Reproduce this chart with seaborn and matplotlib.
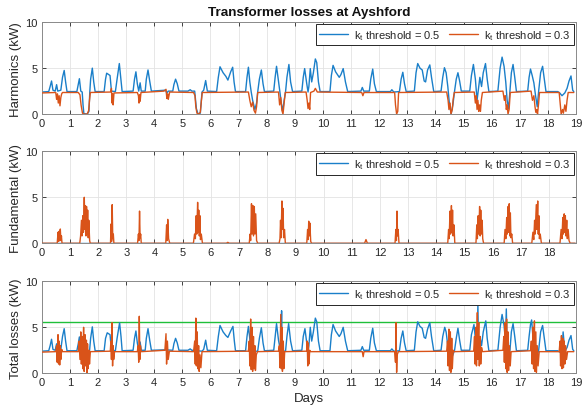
import numpy as np
import pandas as pd
import matplotlib
matplotlib.use("Agg")
import matplotlib.pyplot as plt
import seaborn as sns

# ---------------- data ----------------
TITLE = "Transformer losses at Ayshford"
YLABELS = ["Harmonics (kW)", "Fundamental (kW)", "Total losses (kW)"]
XLABEL = "Days"
SERIES_LABELS = [r"k$_\mathregular{t}$ threshold = 0.5", r"k$_\mathregular{t}$ threshold = 0.3"]
LOSS_LIMIT = 5.6
XTICKS_FULL = list(range(0, 20))
XTICKS_MID = list(range(0, 19))
YTICKS = [0, 5, 10]

# Harmonics, kt = 0.5 (blue)
BLUE_HARM_T = [0.00, 0.25, 0.30, 0.35, 0.40, 0.48, 0.53, 0.57, 0.68, 0.74, 0.80, 0.85, 0.90,
               1.25, 1.30, 1.34, 1.39, 1.44, 1.47, 1.50, 1.62, 1.68, 1.71, 1.74, 1.80, 1.85, 1.90,
               2.22, 2.27, 2.31, 2.38, 2.43, 2.48, 2.62, 2.68, 2.76, 2.81, 2.86,
               3.25, 3.30, 3.35, 3.40, 3.45, 3.50, 3.54, 3.68, 3.72, 3.78, 3.84, 3.90,
               4.40, 4.45, 4.50, 4.66, 4.70, 4.76, 4.82, 4.88,
               5.20, 5.28, 5.34, 5.44, 5.50, 5.56, 5.64, 5.70, 5.76, 5.83, 5.89,
               6.22, 6.28, 6.34, 6.45, 6.55, 6.62, 6.72, 6.79, 6.84, 6.89,
               7.25, 7.30, 7.35, 7.40, 7.45, 7.50, 7.58, 7.64, 7.68, 7.74, 7.81, 7.87, 7.92,
               8.25, 8.30, 8.35, 8.42, 8.47, 8.52, 8.57, 8.62, 8.67, 8.72, 8.79, 8.85, 8.92,
               9.25, 9.30, 9.35, 9.42, 9.47, 9.50, 9.55, 9.60, 9.66, 9.73, 9.78, 9.84, 9.90,
               10.25, 10.30, 10.36, 10.45, 10.58, 10.64, 10.72, 10.80, 10.88,
               11.35, 11.40, 11.45, 11.65, 11.70, 11.77, 11.83, 11.90,
               12.40, 12.45, 12.52, 12.72, 12.78, 12.84, 12.90, 12.96,
               13.25, 13.31, 13.37, 13.45, 13.53, 13.60, 13.65, 13.72, 13.80, 13.86, 13.94,
               14.20, 14.26, 14.32, 14.38, 14.44, 14.50, 14.56, 14.62, 14.68, 14.74, 14.80, 14.86, 14.92,
               15.22, 15.28, 15.35, 15.42, 15.48, 15.52, 15.58, 15.64, 15.70, 15.78, 15.84, 15.90,
               16.22, 16.30, 16.37, 16.44, 16.50, 16.55, 16.60, 16.65, 16.70, 16.76, 16.82, 16.88,
               17.28, 17.33, 17.38, 17.44, 17.50, 17.56, 17.62, 17.67, 17.74, 17.81, 17.87, 17.93,
               18.35, 18.42, 18.50, 18.60, 18.68, 18.75, 18.82, 18.88, 18.92]
BLUE_HARM_V = [2.40, 2.45, 3.00, 3.60, 2.60, 2.50, 3.20, 2.50, 2.60, 4.00, 4.75, 3.50, 2.45,
               2.45, 3.20, 3.85, 2.50, 2.40, 1.00, 0.05, 0.00, 0.30, 2.40, 3.80, 5.00, 3.50, 2.45,
               2.45, 3.80, 4.45, 4.30, 4.20, 2.50, 2.45, 3.80, 5.50, 4.00, 2.45,
               2.50, 3.80, 4.60, 3.30, 2.50, 3.40, 2.50, 2.50, 3.80, 4.80, 3.60, 2.50,
               2.60, 2.30, 2.50, 2.50, 3.20, 3.80, 3.30, 2.50,
               2.50, 2.65, 2.50, 2.50, 0.60, 0.00, 0.10, 2.40, 2.60, 3.65, 2.50,
               2.45, 4.00, 5.15, 4.50, 4.10, 3.70, 4.60, 5.10, 3.50, 2.45,
               2.45, 4.00, 5.10, 3.50, 2.40, 1.50, 0.50, 1.20, 2.40, 3.80, 4.80, 3.30, 2.45,
               2.50, 4.00, 5.20, 3.60, 2.40, 1.20, 0.30, 1.50, 2.40, 4.00, 5.40, 3.50, 2.45,
               2.50, 4.00, 4.95, 3.40, 2.40, 3.00, 4.95, 3.50, 4.50, 6.00, 5.60, 3.50, 2.45,
               2.45, 4.20, 5.30, 4.60, 4.00, 4.30, 4.95, 3.50, 2.45,
               2.50, 2.90, 2.50, 2.50, 3.80, 4.90, 3.30, 2.45,
               2.45, 2.65, 2.40, 2.45, 3.80, 4.55, 3.30, 2.45,
               2.50, 4.50, 5.50, 5.00, 4.80, 3.60, 3.50, 4.80, 5.35, 4.00, 2.45,
               2.50, 4.00, 5.05, 4.50, 3.00, 1.00, 0.05, 1.00, 2.50, 3.80, 4.50, 3.60, 2.50,
               2.50, 4.20, 5.40, 3.80, 1.50, 2.50, 4.00, 3.00, 4.50, 5.50, 3.80, 2.45,
               2.50, 5.00, 6.20, 5.20, 3.50, 1.50, 0.60, 2.50, 4.50, 5.40, 4.00, 2.45,
               2.50, 4.00, 4.90, 4.20, 3.40, 2.00, 0.80, 2.50, 4.50, 5.20, 3.80, 2.45,
               2.45, 2.30, 2.00, 2.30, 2.80, 3.60, 4.15, 2.60, 2.45]

# Harmonics, kt = 0.3 (orange)
ORANGE_HARM_T = [0.00, 0.50, 0.53, 0.56, 0.59, 0.62, 0.65, 0.68, 0.71, 0.74,
                 1.30, 1.36, 1.40, 1.45, 1.50, 1.62, 1.67, 1.70, 1.73,
                 2.45, 2.48, 2.50, 2.52, 2.54, 2.57,
                 3.40, 3.44, 3.46, 3.48, 3.50, 3.53,
                 4.35, 4.42, 4.45, 4.48, 4.50, 4.55,
                 5.40, 5.45, 5.48, 5.52, 5.58, 5.64, 5.68, 5.71,
                 7.35, 7.40, 7.45, 7.50, 7.55, 7.60, 7.64, 7.68,
                 8.42, 8.46, 8.50, 8.54, 8.58, 8.62, 8.66,
                 9.40, 9.44, 9.47, 9.50, 9.53, 9.56, 9.68, 9.73, 9.80,
                 11.38, 11.42, 11.46,
                 12.55, 12.58, 12.62, 12.66, 12.69,
                 14.40, 14.45, 14.48, 14.52, 14.55, 14.60, 14.63, 14.67,
                 15.38, 15.42, 15.45, 15.48, 15.51, 15.54, 15.57, 15.60, 15.63, 15.67,
                 16.40, 16.45, 16.48, 16.52, 16.55, 16.58, 16.62, 16.66,
                 17.40, 17.45, 17.50, 17.54, 17.57, 17.60, 17.63, 17.67, 17.70,
                 18.40, 18.44, 18.47, 18.52, 18.55, 18.60, 18.64, 18.68, 18.72, 18.92]
ORANGE_HARM_V = [2.30, 2.35, 1.60, 2.20, 1.20, 2.00, 0.90, 1.80, 2.20, 2.35,
                 2.35, 2.10, 1.00, 0.10, 0.00, 0.00, 0.40, 1.50, 2.35,
                 2.40, 2.80, 1.20, 2.20, 1.00, 2.30,
                 2.35, 2.00, 1.20, 2.10, 1.40, 2.35,
                 2.50, 2.70, 1.70, 2.20, 1.60, 2.40,
                 2.35, 2.00, 0.80, 0.10, 0.00, 0.20, 1.50, 2.35,
                 2.40, 1.50, 0.80, 1.30, 0.40, 0.10, 0.80, 2.35,
                 2.40, 1.00, 1.80, 0.40, 0.00, 1.20, 2.35,
                 2.40, 1.50, 0.60, 1.20, 0.50, 2.35, 2.50, 2.80, 2.40,
                 2.35, 2.00, 2.35,
                 2.35, 1.00, 0.00, 0.30, 2.35,
                 2.40, 1.50, 0.50, 1.20, 0.00, 0.50, 1.60, 2.35,
                 2.40, 1.20, 2.00, 0.50, 1.50, 0.30, 1.00, 0.30, 1.50, 2.35,
                 2.50, 1.50, 2.00, 0.50, 1.00, 0.00, 0.50, 2.35,
                 2.50, 1.50, 2.00, 0.80, 0.20, 0.50, 0.00, 1.20, 2.35,
                 2.35, 1.00, 0.00, 0.50, 0.10, 1.00, 0.30, 1.50, 2.35, 2.35]

# Fundamental, kt = 0.5 (blue, hidden under the orange line)
BLUE_FUND_T = [0.00, 18.92]
BLUE_FUND_V = [0.00, 0.00]

# Fundamental, kt = 0.3 (orange)
ORANGE_FUND_T = [0.00, 0.55, 0.58, 0.60, 0.62, 0.64, 0.66, 0.68, 0.70, 0.72,
                 1.35, 1.38, 1.41, 1.43, 1.46, 1.48, 1.51, 1.53, 1.55, 1.57, 1.59, 1.61, 1.63, 1.65, 1.67, 1.70, 1.72,
                 2.44, 2.46, 2.48, 2.50, 2.52, 2.54, 2.56,
                 3.40, 3.43, 3.45, 3.47, 3.49, 3.51, 3.53,
                 4.40, 4.43, 4.45, 4.47, 4.50, 4.54,
                 5.38, 5.42, 5.45, 5.48, 5.50, 5.53, 5.55, 5.57, 5.59, 5.61, 5.63, 5.66, 5.70,
                 6.55, 6.60, 6.65,
                 7.36, 7.39, 7.41, 7.44, 7.46, 7.49, 7.51, 7.54, 7.56, 7.59, 7.62, 7.66,
                 8.42, 8.45, 8.47, 8.49, 8.52, 8.54, 8.56, 8.58, 8.61, 8.64,
                 9.40, 9.43, 9.45, 9.47, 9.49, 9.51, 9.54, 9.57,
                 11.45, 11.50, 11.55,
                 12.53, 12.56, 12.58, 12.60, 12.62, 12.64, 12.67,
                 14.40, 14.43, 14.45, 14.48, 14.50, 14.53, 14.55, 14.57, 14.59, 14.62, 14.65,
                 15.40, 15.43, 15.45, 15.48, 15.50, 15.53, 15.55, 15.57, 15.59, 15.62, 15.64, 15.67,
                 16.40, 16.43, 16.46, 16.49, 16.51, 16.54, 16.56, 16.58, 16.60, 16.62, 16.64, 16.67, 16.70,
                 17.38, 17.42, 17.45, 17.48, 17.50, 17.54, 17.56, 17.59, 17.61, 17.63, 17.65, 17.68, 17.72,
                 18.38, 18.42, 18.45, 18.48, 18.50, 18.53, 18.55, 18.57, 18.59, 18.62, 18.64, 18.67, 18.70, 18.74, 18.92]
ORANGE_FUND_V = [0.00, 0.00, 1.20, 0.20, 1.30, 0.30, 1.55, 0.30, 0.80, 0.00,
                 0.00, 0.80, 2.50, 0.80, 3.00, 1.20, 5.00, 1.50, 4.10, 0.80, 4.00, 1.00, 3.60, 0.60, 2.50, 0.30, 0.00,
                 0.00, 2.10, 0.20, 4.20, 0.50, 1.00, 0.00,
                 0.00, 1.00, 0.30, 3.50, 0.60, 1.00, 0.00,
                 0.00, 2.00, 0.30, 2.60, 0.50, 0.00,
                 0.00, 1.00, 0.50, 3.00, 1.00, 4.45, 1.20, 3.60, 0.80, 3.00, 0.40, 1.00, 0.00,
                 0.00, 0.10, 0.00,
                 0.00, 1.00, 0.30, 4.30, 1.00, 4.10, 0.80, 4.00, 1.00, 3.20, 0.30, 0.00,
                 0.00, 0.50, 2.50, 0.60, 4.60, 1.50, 3.80, 0.60, 1.50, 0.00,
                 0.00, 1.50, 0.40, 2.40, 0.80, 2.20, 0.20, 0.00,
                 0.00, 0.40, 0.00,
                 0.00, 1.50, 0.30, 3.50, 0.80, 1.50, 0.00,
                 0.00, 1.50, 0.50, 3.50, 1.00, 4.10, 1.20, 3.60, 0.80, 2.00, 0.00,
                 0.00, 2.00, 0.50, 3.00, 1.00, 4.00, 0.80, 3.60, 1.00, 2.50, 0.50, 0.00,
                 0.00, 1.50, 0.50, 2.80, 1.00, 4.00, 1.20, 4.30, 0.80, 3.30, 0.60, 1.00, 0.00,
                 0.00, 1.20, 0.40, 2.50, 1.00, 4.20, 1.50, 4.60, 1.00, 3.00, 0.50, 1.00, 0.00,
                 0.00, 1.50, 0.50, 2.80, 1.00, 3.20, 1.20, 3.00, 0.80, 2.50, 0.50, 1.50, 0.30, 0.00, 0.00]

# Total losses, kt = 0.5 (blue)
BLUE_TOT_T = [0.00, 0.25, 0.30, 0.35, 0.40, 0.48, 0.53, 0.57, 0.68, 0.74, 0.80, 0.85, 0.90,
              1.25, 1.30, 1.34, 1.39, 1.70, 1.74, 1.80, 1.85, 1.90,
              2.22, 2.27, 2.33, 2.38, 2.43, 2.48, 2.62, 2.68, 2.77, 2.82, 2.86,
              3.25, 3.30, 3.35, 3.40, 3.45, 3.50, 3.54, 3.68, 3.72, 3.78, 3.84, 3.90,
              4.40, 4.66, 4.70, 4.76, 4.82, 4.88,
              5.20, 5.28, 5.34, 5.70, 5.76, 5.83, 5.89,
              6.22, 6.28, 6.34, 6.45, 6.55, 6.62, 6.72, 6.80, 6.85, 6.89,
              7.25, 7.30, 7.35, 7.40, 7.45, 7.68, 7.74, 7.81, 7.87, 7.92,
              8.25, 8.30, 8.35, 8.42, 8.48, 8.51, 8.53, 8.55, 8.60, 8.67, 8.72, 8.78, 8.85, 8.92,
              9.25, 9.30, 9.36, 9.42, 9.47, 9.50, 9.55, 9.60, 9.66, 9.73, 9.78, 9.84, 9.90,
              10.25, 10.30, 10.36, 10.45, 10.58, 10.64, 10.72, 10.80, 10.88,
              11.35, 11.40, 11.45, 11.65, 11.70, 11.77, 11.83, 11.90,
              12.40, 12.45, 12.52, 12.72, 12.78, 12.84, 12.90, 12.96,
              13.25, 13.31, 13.37, 13.45, 13.53, 13.60, 13.65, 13.72, 13.80, 13.86, 13.94,
              14.20, 14.26, 14.33, 14.38, 14.44, 14.50, 14.56, 14.62, 14.68, 14.74, 14.80, 14.86, 14.92,
              15.22, 15.28, 15.37, 15.42, 15.48, 15.51, 15.53, 15.58, 15.64, 15.70, 15.79, 15.84, 15.90,
              16.22, 16.30, 16.37, 16.44, 16.49, 16.52, 16.55, 16.60, 16.65, 16.70, 16.76, 16.82, 16.88,
              17.28, 17.33, 17.38, 17.42, 17.46, 17.50, 17.56, 17.62, 17.67, 17.74, 17.81, 17.87, 17.93,
              18.35, 18.42, 18.50, 18.54, 18.60, 18.68, 18.75, 18.82, 18.88, 18.92]
BLUE_TOT_V = [2.40, 2.45, 3.00, 3.70, 2.60, 2.50, 3.20, 2.50, 2.60, 4.00, 4.85, 3.50, 2.45,
              2.45, 3.20, 3.95, 2.50, 2.40, 3.80, 5.05, 3.50, 2.45,
              2.45, 3.80, 4.40, 4.30, 4.20, 2.50, 2.45, 3.80, 5.50, 4.00, 2.45,
              2.50, 3.80, 4.60, 3.30, 2.50, 3.40, 2.50, 2.50, 3.80, 4.85, 3.60, 2.50,
              2.55, 2.50, 3.20, 3.80, 3.30, 2.50,
              2.50, 2.65, 2.50, 2.40, 2.60, 3.60, 2.50,
              2.45, 4.00, 5.20, 4.50, 4.10, 3.90, 4.60, 5.10, 3.50, 2.45,
              2.45, 4.00, 5.10, 3.70, 2.40, 2.40, 3.80, 4.95, 3.30, 2.45,
              2.50, 4.00, 5.40, 3.60, 2.60, 4.00, 6.80, 3.00, 2.40, 2.40, 4.00, 5.40, 3.50, 2.45,
              2.50, 4.00, 4.85, 3.40, 2.40, 3.00, 5.00, 3.50, 4.50, 6.00, 5.60, 3.50, 2.45,
              2.45, 4.20, 5.30, 4.60, 4.00, 4.30, 5.00, 3.50, 2.45,
              2.50, 2.90, 2.50, 2.50, 3.80, 4.90, 3.30, 2.45,
              2.45, 2.65, 2.40, 2.45, 3.80, 4.60, 3.30, 2.45,
              2.50, 4.50, 5.60, 5.10, 4.90, 3.90, 3.80, 4.80, 5.50, 4.00, 2.45,
              2.50, 4.00, 5.00, 4.50, 3.00, 2.00, 1.50, 2.00, 2.50, 3.80, 4.90, 3.60, 2.50,
              2.50, 4.20, 5.30, 3.80, 3.00, 7.50, 3.00, 4.00, 3.00, 4.50, 5.70, 3.80, 2.45,
              2.50, 5.00, 6.40, 5.20, 3.50, 7.00, 3.00, 2.00, 2.50, 4.50, 5.40, 4.00, 2.45,
              2.50, 4.00, 5.30, 5.80, 4.20, 3.40, 2.40, 2.00, 2.50, 4.50, 5.20, 3.80, 2.45,
              2.45, 2.30, 2.40, 4.50, 2.40, 2.80, 3.60, 4.10, 2.60, 2.45]

# Total losses, kt = 0.3 (orange)
ORANGE_TOT_T = [0.00, 0.50, 0.53, 0.55, 0.58, 0.60, 0.62, 0.64, 0.66, 0.68, 0.71, 0.74,
                1.30, 1.33, 1.36, 1.39, 1.41, 1.44, 1.46, 1.49, 1.51, 1.54, 1.56, 1.59, 1.61, 1.63, 1.65, 1.68, 1.70, 1.73,
                2.44, 2.46, 2.48, 2.50, 2.52, 2.54, 2.56, 2.59,
                3.40, 3.43, 3.45, 3.47, 3.49, 3.51, 3.54,
                4.38, 4.42, 4.44, 4.47, 4.50, 4.54,
                5.40, 5.44, 5.46, 5.48, 5.50, 5.53, 5.55, 5.58, 5.60, 5.63, 5.66, 5.70,
                7.35, 7.38, 7.40, 7.43, 7.45, 7.48, 7.50, 7.53, 7.55, 7.58, 7.60, 7.63, 7.67,
                8.42, 8.45, 8.47, 8.50, 8.52, 8.54, 8.56, 8.59, 8.61, 8.64,
                9.42, 9.44, 9.46, 9.48, 9.50, 9.53, 9.56,
                11.40, 11.43, 11.46,
                12.55, 12.58, 12.60, 12.62, 12.64, 12.68,
                14.40, 14.43, 14.45, 14.48, 14.50, 14.53, 14.55, 14.58, 14.60, 14.63, 14.66,
                15.36, 15.39, 15.41, 15.44, 15.46, 15.49, 15.51, 15.54, 15.56, 15.59, 15.61, 15.64, 15.67,
                16.40, 16.43, 16.45, 16.48, 16.50, 16.53, 16.55, 16.58, 16.60, 16.63, 16.66, 16.69,
                17.38, 17.41, 17.44, 17.47, 17.49, 17.52, 17.54, 17.57, 17.59, 17.62, 17.65, 17.69,
                18.40, 18.43, 18.45, 18.48, 18.50, 18.53, 18.55, 18.58, 18.60, 18.63, 18.66, 18.70, 18.92]
ORANGE_TOT_V = [2.30, 2.35, 3.00, 1.20, 4.20, 1.00, 3.50, 0.90, 3.00, 1.50, 2.60, 2.35,
                2.35, 3.50, 1.50, 4.50, 1.00, 4.00, 0.50, 5.00, 0.20, 4.20, 0.80, 3.60, 0.00, 3.20, 0.50, 2.50, 1.00, 2.35,
                2.40, 3.50, 1.50, 5.50, 0.80, 3.00, 1.50, 2.35,
                2.35, 3.00, 1.20, 6.20, 1.50, 3.00, 2.35,
                2.50, 4.30, 1.00, 3.50, 1.50, 2.40,
                2.35, 3.50, 1.00, 6.00, 0.80, 4.50, 0.50, 3.00, 0.20, 2.00, 0.60, 2.35,
                2.40, 3.50, 0.80, 5.90, 0.40, 5.00, 0.20, 4.00, 0.50, 3.00, 0.30, 2.00, 2.35,
                2.40, 3.00, 0.60, 6.40, 0.50, 5.00, 0.20, 3.50, 0.50, 2.35,
                2.40, 3.50, 0.80, 3.30, 1.00, 2.50, 2.35,
                2.35, 1.80, 2.35,
                2.35, 1.20, 5.50, 0.10, 2.00, 2.35,
                2.40, 3.50, 0.80, 4.80, 0.30, 4.50, 0.10, 3.80, 0.50, 2.50, 2.35,
                2.40, 4.00, 1.00, 5.00, 0.80, 6.60, 1.50, 5.50, 0.80, 4.00, 1.00, 2.80, 2.35,
                2.50, 4.00, 1.20, 5.50, 0.50, 5.90, 0.10, 4.50, 0.30, 3.00, 0.80, 2.35,
                2.45, 3.50, 1.00, 5.00, 0.50, 5.70, 0.20, 4.50, 0.10, 3.00, 0.80, 2.35,
                2.35, 3.50, 0.80, 4.10, 0.50, 3.80, 0.60, 3.50, 1.00, 3.00, 1.50, 2.35, 2.35]

# ---------------- styling ----------------
BLUE = "#1a7fc9"
ORANGE = "#D95319"
GREEN = "#1fbf3a"

sns.set_theme(style="whitegrid")
plt.rcParams["font.family"] = ["Liberation Sans", "DejaVu Sans"]
plt.rcParams["mathtext.fontset"] = "custom"
plt.rcParams["mathtext.rm"] = "Liberation Sans"

fig = plt.figure(figsize=(5.84, 4.14), dpi=100)
fig.patch.set_facecolor("white")

left, width, height = 0.0714, 0.915, 0.222
bottoms = [0.722, 0.410, 0.096]
axes = [fig.add_axes([left, b, width, height]) for b in bottoms]

panels = [
    (BLUE_HARM_T, BLUE_HARM_V, ORANGE_HARM_T, ORANGE_HARM_V),
    (BLUE_FUND_T, BLUE_FUND_V, ORANGE_FUND_T, ORANGE_FUND_V),
    (BLUE_TOT_T, BLUE_TOT_V, ORANGE_TOT_T, ORANGE_TOT_V),
]

for i, (ax, (bt, bv, ot, ov)) in enumerate(zip(axes, panels)):
    ax.set_facecolor("white")
    if i == 2:
        ax.axhline(LOSS_LIMIT, color=GREEN, lw=1.0, zorder=1.5)
    dfb = pd.DataFrame({"Days": bt, "kW": bv})
    dfo = pd.DataFrame({"Days": ot, "kW": ov})
    sns.lineplot(data=dfb, x="Days", y="kW", ax=ax, color=BLUE, lw=1.0,
                 label=SERIES_LABELS[0], estimator=None, sort=False, zorder=2)
    sns.lineplot(data=dfo, x="Days", y="kW", ax=ax, color=ORANGE, lw=1.0,
                 label=SERIES_LABELS[1], estimator=None, sort=False, zorder=3)
    ax.set_ylim(0, 10)
    ax.set_yticks(YTICKS)
    if i == 1:
        ax.set_xlim(0, 18.95)
        ax.set_xticks(XTICKS_MID)
    else:
        ax.set_xlim(0, 19)
        ax.set_xticks(XTICKS_FULL)
    ax.set_xlabel(XLABEL if i == 2 else "", fontsize=9.5, color="#262626", labelpad=3)
    ax.set_ylabel(YLABELS[i], fontsize=9.5, color="#262626", labelpad=2)
    ax.grid(True, color="#e3e3e3", lw=0.6)
    ax.tick_params(axis="both", which="both", direction="in", length=3, width=0.6,
                   top=True, right=True, bottom=True, left=True,
                   labelsize=8, colors="#262626", pad=3)
    for sp in ax.spines.values():
        sp.set_color("#8a8a8a")
        sp.set_linewidth(0.7)
    leg = ax.legend(loc="upper right", ncol=2, fontsize=8, frameon=True, fancybox=False,
                    edgecolor="#262626", framealpha=1.0, borderaxespad=0.15,
                    handlelength=2.6, columnspacing=0.8, handletextpad=0.5,
                    borderpad=0.35)
    leg.get_frame().set_linewidth(0.7)

axes[0].set_title(TITLE, fontsize=9.7, fontweight="bold", color="#111111", pad=5)

fig.savefig("out.png", dpi=100, facecolor="white")
